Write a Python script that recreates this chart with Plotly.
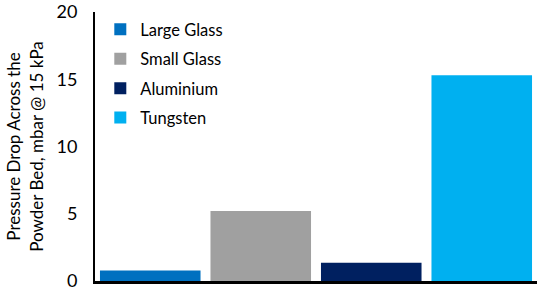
import plotly.graph_objects as go

categories = ["Large Glass", "Small Glass", "Aluminium", "Tungsten"]
values = [0.78, 5.2, 1.35, 15.3]
colors = ["#0070C0", "#A0A0A0", "#002060", "#00B0F0"]
y_ticks = [0, 5, 10, 15, 20]

fig = go.Figure()
for c, v, col in zip(categories, values, colors):
    fig.add_trace(go.Bar(x=[c], y=[v], name=c, legendgroup=c,
                         marker=dict(color=col, line=dict(width=0))))

font = "Lato, Carlito, Calibri, sans-serif"
fig.update_layout(
    width=537, height=293,
    margin=dict(l=95, r=0, t=12, b=12),
    paper_bgcolor="white", plot_bgcolor="white",
    barmode="relative", bargap=0.09,
    showlegend=True,
    legend=dict(x=0.012, y=1.0, xanchor="left", yanchor="top",
                font=dict(family=font, size=16.5, color="#000"),
                bgcolor="rgba(0,0,0,0)", itemwidth=30, tracegroupgap=5),
    xaxis=dict(categoryorder="array", categoryarray=categories, showticklabels=False,
               showline=True, linecolor="black", linewidth=2.5, ticks="", showgrid=False,
               zeroline=False),
    yaxis=dict(range=[0, 20], tickvals=y_ticks, showline=True, linecolor="black",
               linewidth=2, ticks="", showgrid=False, zeroline=False,
               tickfont=dict(family=font, size=18, color="#000"), ticklabelstandoff=12,
               title=dict(text="Pressure Drop Across the<br>Powder Bed, mbar @ 15 kPa",
                          font=dict(family=font, size=17, color="#000"), standoff=9)),
)
fig.write_html("out.html")
